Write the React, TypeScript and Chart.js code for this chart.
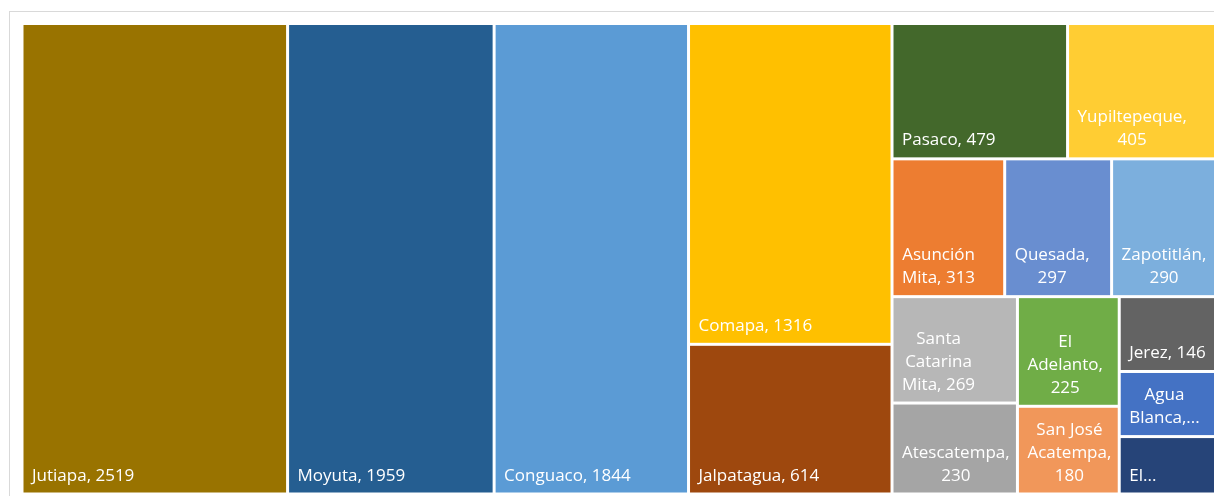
import React, { useEffect, useRef } from "react";
import { Chart, registerables } from "chart.js";

Chart.register(...registerables);

const municipios = [
  "Jutiapa",
  "Moyuta",
  "Conguaco",
  "Comapa",
  "Jalpatagua",
  "Pasaco",
  "Yupiltepeque",
  "Asunción Mita",
  "Quesada",
  "Zapotitlán",
  "Santa Catarina Mita",
  "Atescatempa",
  "El Adelanto",
  "San José Acatempa",
  "Jerez",
  "Agua Blanca",
  "El Progreso",
];

const valores = [2519, 1959, 1844, 1316, 614, 479, 405, 313, 297, 290, 269, 230, 225, 180, 146, 127, 112];

const colores = [
  "#997300",
  "#255E91",
  "#5B9BD5",
  "#FFC000",
  "#9E480E",
  "#43682B",
  "#FFCD33",
  "#ED7D31",
  "#698ED0",
  "#7CAFDD",
  "#B7B7B7",
  "#A5A5A5",
  "#70AD47",
  "#F1975A",
  "#636363",
  "#4472C4",
  "#264478",
];

// preferred cell width/height ratio used when grouping cells into strips
const TARGET_ASPECT = 0.82;

type Rect = { x: number; y: number; w: number; h: number };

function squarify(vals: number[], rect: Rect, sx: number, sy: number): Rect[] {
  const out: Rect[] = new Array(vals.length);
  let r = { ...rect };
  let i = 0;
  let remaining = vals.reduce((a, b) => a + b, 0);
  const ratio = (w: number, h: number) => {
    const a = w / h / TARGET_ASPECT;
    return Math.max(a, 1 / a);
  };
  while (i < vals.length) {
    const Wpx = r.w * sx;
    const Hpx = r.h * sy;
    const k = (Wpx * Hpx) / remaining;
    const vertical = Wpx >= Hpx;
    const side = vertical ? Hpx : Wpx;
    const worst = (row: number[]) => {
      const s = row.reduce((a, b) => a + b, 0) * k;
      const t = s / side;
      let m = 0;
      for (const v of row) {
        const l = (v * k) / t;
        m = Math.max(m, vertical ? ratio(t, l) : ratio(l, t));
      }
      return m;
    };
    let row = [vals[i]];
    let j = i + 1;
    while (j < vals.length) {
      const next = [...row, vals[j]];
      if (worst(next) <= worst(row)) {
        row = next;
        j++;
      } else break;
    }
    const rowSum = row.reduce((a, b) => a + b, 0);
    const frac = rowSum / remaining;
    if (vertical) {
      const cw = r.w * frac;
      let y = r.y;
      row.forEach((v, m) => {
        const ch = (r.h * v) / rowSum;
        out[i + m] = { x: r.x, y, w: cw, h: ch };
        y += ch;
      });
      r = { x: r.x + cw, y: r.y, w: r.w - cw, h: r.h };
    } else {
      const chh = r.h * frac;
      let x = r.x;
      row.forEach((v, m) => {
        const cw = (r.w * v) / rowSum;
        out[i + m] = { x, y: r.y, w: cw, h: chh };
        x += cw;
      });
      r = { x: r.x, y: r.y + chh, w: r.w, h: r.h - chh };
    }
    remaining -= rowSum;
    i = j;
  }
  return out;
}

const FONT = '17px "Open Sans"';
const GAP = 1.5;
const PAD_L = 8.5;
const PAD_R = 4;
const PAD_T = 6;
const PAD_B = 5;
const LINE_H = 23;
const BASE_OFF = 12;

function wrap(ctx: CanvasRenderingContext2D, text: string, avail: number): string[] {
  const words = text.split(" ");
  const lines: string[] = [];
  let cur = "";
  for (const w of words) {
    const cand = cur ? cur + " " + w : w;
    if (!cur || ctx.measureText(cand).width <= avail) {
      cur = cand;
    } else {
      lines.push(cur);
      cur = w;
    }
  }
  if (cur) lines.push(cur);
  return lines;
}

const treemapPlugin = {
  id: "treemapCells",
  afterDatasetsDraw(chart: any) {
    const xs = chart.scales.x;
    const ys = chart.scales.y;
    const ctx: CanvasRenderingContext2D = chart.ctx;
    const sx = Math.abs(xs.getPixelForValue(1) - xs.getPixelForValue(0));
    const sy = Math.abs(ys.getPixelForValue(1) - ys.getPixelForValue(0));
    const cells = squarify(valores, { x: 0, y: 0, w: 1, h: 1 }, sx, sy);
    ctx.save();
    cells.forEach((c, i) => {
      const x0 = xs.getPixelForValue(c.x);
      const x1 = xs.getPixelForValue(c.x + c.w);
      const y0 = ys.getPixelForValue(c.y);
      const y1 = ys.getPixelForValue(c.y + c.h);
      const vx0 = x0 + GAP;
      const vx1 = x1 - GAP;
      const vy0 = y0 + GAP;
      const vy1 = y1 - GAP;
      ctx.fillStyle = colores[i];
      ctx.fillRect(vx0, vy0, vx1 - vx0, vy1 - vy0);

      ctx.font = FONT;
      const text = `${municipios[i]}, ${valores[i]}`;
      const avail = vx1 - vx0 - PAD_L - PAD_R;
      let lines = wrap(ctx, text, avail);
      const maxLines = Math.max(1, Math.floor((vy1 - vy0 - PAD_T - PAD_B) / LINE_H));
      if (lines.length > maxLines) {
        lines = lines.slice(0, maxLines);
        lines[maxLines - 1] = lines[maxLines - 1] + "...";
      }
      const blockW = Math.max(...lines.map((l) => ctx.measureText(l).width));
      const cx = vx0 + PAD_L + blockW / 2;
      ctx.fillStyle = "#ffffff";
      ctx.textAlign = "center";
      ctx.textBaseline = "alphabetic";
      const n = lines.length;
      lines.forEach((l, k) => {
        const by = vy1 - BASE_OFF - (n - 1 - k) * LINE_H;
        ctx.fillText(l, cx, by);
      });
    });
    ctx.restore();
  },
};

export default function App() {
  const ref = useRef<HTMLCanvasElement | null>(null);
  useEffect(() => {
    if (!ref.current) return;
    const chart = new Chart(ref.current, {
      type: "scatter",
      data: { datasets: [{ data: [], pointRadius: 0 }] },
      options: {
        animation: false,
        responsive: false,
        devicePixelRatio: 1,
        layout: { padding: { left: 22, top: 23.5, right: 24, bottom: 2 } },
        plugins: { legend: { display: false }, tooltip: { enabled: false } },
        scales: {
          x: { type: "linear", min: 0, max: 1, display: false },
          y: { type: "linear", min: 0, max: 1, reverse: true, display: false },
        },
      },
      plugins: [treemapPlugin],
    });
    return () => chart.destroy();
  }, []);
  return (
    <div style={{ position: "absolute", left: 0, top: 0, width: 1214, height: 496, overflow: "hidden", background: "#fff" }}>
      <div
        style={{
          position: "absolute",
          left: 9,
          top: 11,
          width: 1300,
          height: 600,
          border: "1px solid #d9d9d9",
          boxSizing: "border-box",
        }}
      />
      <canvas
        ref={ref}
        width={1240}
        height={496}
        style={{ position: "absolute", left: 0, top: 0, width: 1240, height: 496 }}
      />
    </div>
  );
}
